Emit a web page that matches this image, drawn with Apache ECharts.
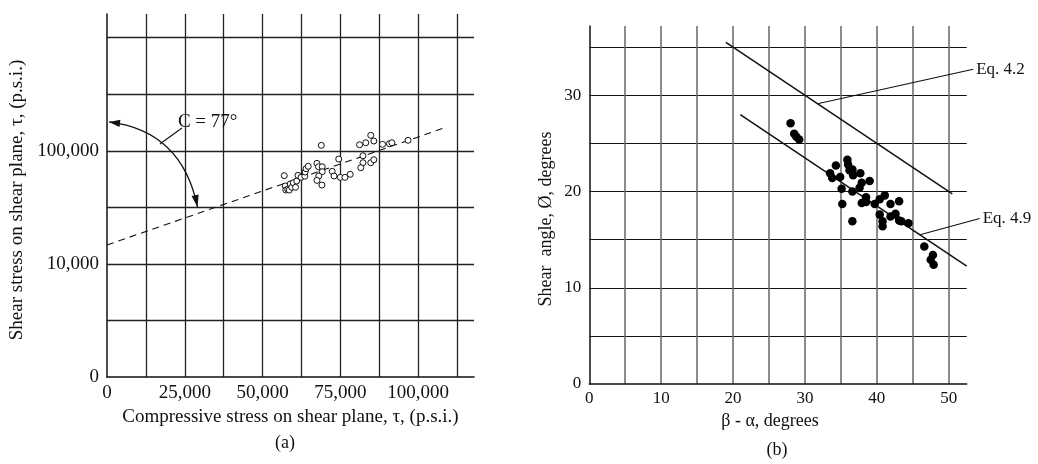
<!DOCTYPE html>
<html>
<head>
<meta charset="utf-8">
<script src="https://cdn.jsdelivr.net/npm/echarts@6/dist/echarts.min.js"></script>
<style>
  html, body { margin: 0; padding: 0; background: #fff; }
  #chart { width: 1038px; height: 464px; }
</style>
</head>
<body>
<div id="chart"></div>
<script>
// ---- Panel (a): shear stress against compressive stress on the shear plane (p.s.i.)
const compressiveStress = [57000, 57300, 57500, 58100, 58600, 58900, 59400, 59900, 60600, 61000,
  61400, 62400, 63600, 63700, 64000, 64700, 67500, 68000, 69200, 69200,
  68100, 67500, 69100, 68900, 72400, 73000, 74500, 75000, 76500, 78200,
  81200, 83200, 84800, 85800, 82300, 82300, 81600, 84800, 85800, 88600,
  90800, 91600, 96800];
const shearStress = [60300, 48900, 45000, 45700, 45000, 50900, 47600, 52200, 47600, 54100,
  60700, 58300, 59600, 65000, 69500, 73000, 77500, 72300, 72300, 65400,
  59900, 54800, 49800, 111800, 65900, 59900, 84600, 58300, 58300, 62000,
  113200, 117900, 137100, 122100, 90500, 78500, 70900, 78500, 83400, 114200,
  115600, 117900, 123900];
// fitted line (dashed), end points in p.s.i.
const fitLineX = [0, 108000];
const fitLineY = [14700, 158000];
// tick labels of panel (a)
const xTicksA = [0, 25000, 50000, 75000, 100000];
const xTickLabelsA = ['0', '25,000', '50,000', '75,000', '100,000'];
const yTicksA = [1000, 10000, 100000];
const yTickLabelsA = ['0', '10,000', '100,000'];
// angle note "C = 77°": arc from the axis to the fitted line, in data units (p.s.i.)
const angleArc = { start: [650, 180000], ctrl: [24100, 149600], end: [29100, 31800] };
const angleLeader = { from: [17000, 114800], to: [24100, 159100] };
const angleText = { at: [22800, 180000], text: 'C = 77°' };

// ---- Panel (b): shear angle against (beta - alpha), degrees
const betaMinusAlpha = [28.0, 28.5, 28.8, 29.2, 33.5, 33.8, 34.3, 34.9, 35.1, 35.2,
  35.9, 36.0, 36.2, 36.6, 36.7, 36.6, 36.6, 37.7, 37.9, 37.6,
  37.9, 38.5, 38.5, 39.0, 39.7, 40.4, 41.1, 40.4, 40.8, 40.8,
  41.9, 43.1, 41.9, 42.6, 43.1, 43.4, 44.4, 46.6, 47.8, 47.5, 47.9];
const shearAngle = [27.1, 26.0, 25.7, 25.4, 21.9, 21.4, 22.7, 21.5, 20.3, 18.7,
  23.3, 22.8, 22.2, 22.3, 21.7, 20.0, 16.9, 21.9, 20.9, 20.4,
  18.8, 19.4, 18.9, 21.1, 18.7, 19.2, 19.6, 17.6, 16.9, 16.4,
  18.7, 19.0, 17.4, 17.7, 17.0, 16.9, 16.7, 14.3, 13.4, 12.9, 12.4];
// theory lines, end points [beta - alpha, shear angle]
const eq42Line = [[19, 35.5], [50.5, 19.75]];
const eq49Line = [[21, 28.0], [52.5, 12.25]];
// labels of the theory lines: leader starts on the line at x = onLineX
const eqLabels = [
  { text: 'Eq. 4.2', line: eq42Line, onLineX: 31.75, to: [53.4, 32.7] },
  { text: 'Eq. 4.9', line: eq49Line, onLineX: 46.0, to: [54.3, 17.2] }
];
const xTickLabelsB = ['0', '10', '20', '30', '40', '50'];
const yTickLabelsB = ['0', '10', '20', '30'];

const FONT = "'Liberation Serif', 'Times New Roman', serif";
const INK = '#111';
const lg = v => Math.log10(v);
const near = (a, b) => Math.abs(a - b) < 1e-6;

function arrowHead(tip, from, len, half) {
  const dx = tip[0] - from[0], dy = tip[1] - from[1];
  const d = Math.hypot(dx, dy) || 1;
  const ux = dx / d, uy = dy / d;
  const bx = tip[0] - ux * len, by = tip[1] - uy * len;
  return [tip, [bx - uy * half, by + ux * half], [bx + uy * half, by - ux * half]];
}

function lineYAt(line, x) {
  const [[x0, y0], [x1, y1]] = line;
  return y0 + (y1 - y0) * (x - x0) / (x1 - x0);
}

const chart = echarts.init(document.getElementById('chart'), null, { renderer: 'canvas' });

const option = {
  animation: false,
  backgroundColor: '#fff',
  textStyle: { fontFamily: FONT, color: INK },
  grid: [
    { left: 107, top: 14, width: 367, height: 363 },
    { left: 589.3, top: 26, width: 377.4, height: 358 }
  ],
  xAxis: [
    {
      gridIndex: 0, type: 'value', min: 0, max: 118000, interval: 12500,
      axisLine: { show: true, lineStyle: { color: INK, width: 1.5 } },
      axisTick: { show: false },
      splitLine: { show: true, showMinLine: false, showMaxLine: false, lineStyle: { color: '#222', width: 1.3 } },
      axisLabel: {
        margin: 7, fontFamily: FONT, fontSize: 19, color: INK, showMaxLabel: false,
        formatter: v => { const i = xTicksA.findIndex(t => near(t, v)); return i >= 0 ? xTickLabelsA[i] : ''; }
      },
      name: 'Compressive stress on shear plane, τ, (p.s.i.)',
      nameLocation: 'middle', nameGap: 27,
      nameTextStyle: { fontFamily: FONT, fontSize: 19, color: INK }
    },
    {
      gridIndex: 1, type: 'value', min: 0, max: 52.5, interval: 5,
      axisLine: { show: true, lineStyle: { color: INK, width: 1.5 } },
      axisTick: { show: false },
      splitLine: { show: true, showMinLine: false, showMaxLine: false, lineStyle: { color: '#666', width: 1.5 } },
      axisLabel: {
        margin: 6, fontFamily: FONT, fontSize: 17, color: INK, showMaxLabel: false,
        formatter: v => { const i = xTickLabelsB.indexOf(String(v)); return i >= 0 ? xTickLabelsB[i] : ''; }
      },
      name: 'β - α, degrees',
      nameLocation: 'middle', nameGap: 28,
      nameTextStyle: { fontFamily: FONT, fontSize: 18, color: INK, padding: [0, 16, 0, 0] }
    }
  ],
  yAxis: [
    {
      gridIndex: 0, type: 'value', min: 3, max: 6.21, interval: 0.5,
      axisLine: { show: true, lineStyle: { color: INK, width: 1.5 } },
      axisTick: { show: false },
      splitLine: { show: true, showMinLine: false, showMaxLine: false, lineStyle: { color: '#222', width: 1.3 } },
      axisLabel: {
        margin: 8, fontFamily: FONT, fontSize: 19, color: INK, showMaxLabel: false,
        formatter: v => { const i = yTicksA.findIndex(t => near(lg(t), v)); return i >= 0 ? yTickLabelsA[i] : ''; }
      },
      name: 'Shear stress on shear plane, τ, (p.s.i.)',
      nameLocation: 'middle', nameGap: 80,
      nameTextStyle: { fontFamily: FONT, fontSize: 19, color: INK, padding: [0, 9, 0, 0] }
    },
    {
      gridIndex: 1, type: 'value', min: 0, max: 37.2, interval: 5,
      axisLine: { show: true, lineStyle: { color: INK, width: 1.5 } },
      axisTick: { show: false },
      splitLine: { show: true, showMinLine: false, showMaxLine: false, lineStyle: { color: '#111', width: 1.2 } },
      axisLabel: {
        margin: 8, fontFamily: FONT, fontSize: 17, color: INK, showMaxLabel: false,
        formatter: v => { const i = yTickLabelsB.indexOf(String(v)); return i >= 0 ? yTickLabelsB[i] : ''; }
      },
      name: 'Shear  angle, Ø, degrees',
      nameLocation: 'middle', nameGap: 34,
      nameTextStyle: { fontFamily: FONT, fontSize: 18, color: INK, padding: [0, 28, 0, 0] }
    }
  ],
  series: [
    {
      type: 'line', xAxisIndex: 0, yAxisIndex: 0, silent: true,
      data: fitLineX.map((x, i) => [x, lg(fitLineY[i])]),
      showSymbol: false, symbol: 'none',
      lineStyle: { color: INK, width: 1.1, type: [7, 5] }, z: 3
    },
    {
      type: 'scatter', xAxisIndex: 0, yAxisIndex: 0, silent: true,
      data: compressiveStress.map((x, i) => [x, lg(shearStress[i])]),
      symbol: 'circle', symbolSize: 6,
      itemStyle: { color: '#fff', borderColor: INK, borderWidth: 1, opacity: 1 }, z: 4
    },
    {
      type: 'custom', xAxisIndex: 0, yAxisIndex: 0, silent: true, clip: false,
      data: [[0, 4]],
      renderItem: (params, api) => {
        const c = p => api.coord([p[0], lg(p[1])]);
        const p0 = c(angleArc.start), cp = c(angleArc.ctrl), p2 = c(angleArc.end);
        const l0 = c(angleLeader.from), l1 = c(angleLeader.to);
        const t = c(angleText.at);
        return {
          type: 'group',
          children: [
            { type: 'bezierCurve', shape: { x1: p0[0], y1: p0[1], x2: p2[0], y2: p2[1], cpx1: cp[0], cpy1: cp[1] },
              style: { stroke: INK, lineWidth: 1.3, fill: null } },
            { type: 'polygon', shape: { points: arrowHead(p0, cp, 11, 3.6) }, style: { fill: INK } },
            { type: 'polygon', shape: { points: arrowHead(p2, cp, 12, 3.6) }, style: { fill: INK } },
            { type: 'line', shape: { x1: l0[0], y1: l0[1], x2: l1[0], y2: l1[1] }, style: { stroke: INK, lineWidth: 1.1 } },
            { type: 'text', x: t[0], y: t[1],
              style: { text: angleText.text, font: '19px ' + FONT, fill: INK, align: 'left', verticalAlign: 'middle' } }
          ]
        };
      },
      z: 5
    },
    {
      type: 'line', xAxisIndex: 1, yAxisIndex: 1, silent: true, data: eq42Line,
      showSymbol: false, symbol: 'none', lineStyle: { color: INK, width: 1.5 }, z: 3
    },
    {
      type: 'line', xAxisIndex: 1, yAxisIndex: 1, silent: true, data: eq49Line,
      showSymbol: false, symbol: 'none', lineStyle: { color: INK, width: 1.5 }, z: 3
    },
    {
      type: 'scatter', xAxisIndex: 1, yAxisIndex: 1, silent: true,
      data: betaMinusAlpha.map((x, i) => [x, shearAngle[i]]),
      symbol: 'circle', symbolSize: 8.5, itemStyle: { color: '#000', opacity: 1 }, z: 4
    },
    {
      type: 'custom', xAxisIndex: 1, yAxisIndex: 1, silent: true, clip: false,
      data: eqLabels.map((d, i) => [i, 0]),
      renderItem: (params, api) => {
        const d = eqLabels[params.dataIndex];
        const a = api.coord([d.onLineX, lineYAt(d.line, d.onLineX)]);
        const b = api.coord(d.to);
        return {
          type: 'group',
          children: [
            { type: 'line', shape: { x1: a[0], y1: a[1], x2: b[0], y2: b[1] }, style: { stroke: INK, lineWidth: 1.1 } },
            { type: 'text', x: b[0] + 3, y: b[1] + 0.5,
              style: { text: d.text, font: '17px ' + FONT, fill: INK, align: 'left', verticalAlign: 'middle' } }
          ]
        };
      },
      z: 5
    }
  ],
  graphic: [
    { type: 'text', x: 285, y: 443, style: { text: '(a)', font: '18px ' + FONT, fill: INK, align: 'center', verticalAlign: 'middle' } },
    { type: 'text', x: 777, y: 450, style: { text: '(b)', font: '18px ' + FONT, fill: INK, align: 'center', verticalAlign: 'middle' } }
  ]
};

chart.setOption(option);
</script>
</body>
</html>
